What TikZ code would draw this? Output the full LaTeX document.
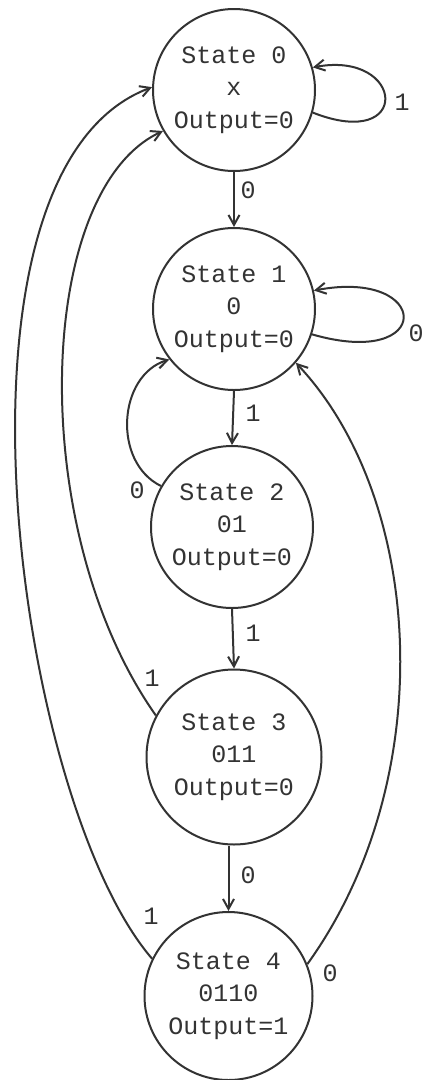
\documentclass[tikz,border=0pt]{standalone}
\usepackage{fontspec}
\setmonofont{Liberation Mono}
\usetikzlibrary{arrows.meta}
\definecolor{ink}{HTML}{333333}
\begin{document}
\begin{tikzpicture}[x=1pt,y=-1pt,
  st/.style={draw=ink,line width=2pt,circle,inner sep=0pt,align=center,text=ink,
    font=\ttfamily\fontsize{25}{32.5}\selectfont},
  lbl/.style={text=ink,inner sep=0pt,font=\ttfamily\fontsize{25}{30}\selectfont},
  edge/.style={draw=ink,line width=2pt,-{Straight Barb[length=10pt,width=11pt]}}]
\fill[white] (0,0) rectangle (424,1080);
\useasboundingbox (0,0) rectangle (424,1080);
\node[st,minimum size=162pt] (s0) at (234,90) {State 0\\x\\Output=0};
\node[st,minimum size=162pt] (s1) at (234,309) {State 1\\0\\Output=0};
\node[st,minimum size=162pt] (s2) at (232,527) {State 2\\01\\Output=0};
\node[st,minimum size=175pt] (s3) at (234,757) {State 3\\011\\Output=0};
\node[st,minimum size=168pt] (s4) at (228.5,996) {State 4\\0110\\Output=1};
% straight edges
\draw[edge] (s0.south) -- (s1.north);
\draw[edge] (s1.south) -- (s2.north);
\draw[edge] (s2.south) -- (s3.north);
\draw[edge] (s3.south -| s4.north) -- (s4.north);
% self loops
\draw[edge] (s0.-16) .. controls (413,152) and (405,50) .. (s0.16);
\draw[edge] (s1.-18) .. controls (435,370) and (432,268) .. (s1.13);
% back edges
\draw[edge] (s2.150) .. controls (112,462) and (118,375) .. (s1.218);
\draw[edge] (s3.152) .. controls (25,530) and (35,190) .. (s0.210);
\draw[edge] (s4.154) .. controls (15,800) and (-70,170) .. (s0.178);
\draw[edge] (s4.22) .. controls (440,780) and (425,500) .. (s1.-41);
% labels
\node[lbl] (l00) at (402,102) {1};
\node[lbl] (l01) at (248,190) {0};
\node[lbl] (l11) at (416,333) {0};
\node[lbl] (l12) at (253,413) {1};
\node[lbl] (l21) at (137,490) {0};
\node[lbl] (l23) at (253,633) {1};
\node[lbl] (l30) at (152,678) {1};
\node[lbl] (l34) at (248,875) {0};
\node[lbl] (l40) at (151,916) {1};
\node[lbl] (l41) at (330,973) {0};
\end{tikzpicture}
\end{document}
